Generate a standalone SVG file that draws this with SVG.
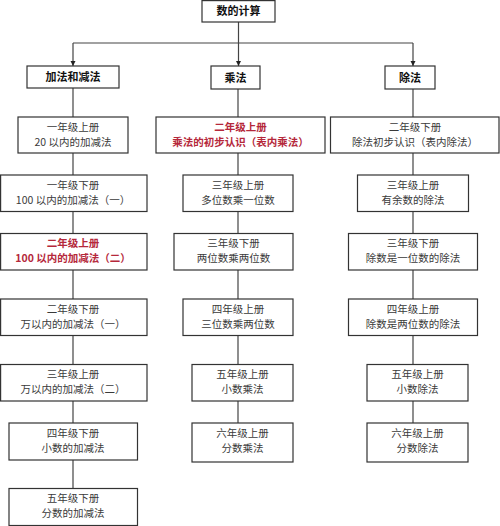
<svg xmlns="http://www.w3.org/2000/svg" width="500" height="526" viewBox="0 0 500 526">
<style>
.b{fill:#fff;stroke:#333;stroke-width:1.2}
.t{font-family:"Noto Sans CJK SC",sans-serif;font-size:10.5px;fill:#3a3a3a;text-anchor:middle}
.h{font-family:"Noto Sans CJK SC",sans-serif;font-size:11px;font-weight:bold;fill:#111;text-anchor:middle}
.r{fill:#b5283b;font-weight:bold}
.c{stroke:#444;stroke-width:1.2;fill:none}
</style>
<defs>
<marker id="a" viewBox="0 0 10 10" refX="10" refY="5" markerWidth="5" markerHeight="6" orient="auto" markerUnits="userSpaceOnUse">
<path d="M0,0L10,5L0,10z" fill="#222"/>
</marker>
</defs>
<g id="connectors">
<path class="c" d="M238.5,22V66" marker-end="url(#a)"/>
<path class="c" d="M73,43H413"/>
<path class="c" d="M73,43V66" marker-end="url(#a)"/>
<path class="c" d="M413,43V66" marker-end="url(#a)"/>
<path class="c" d="M73,88V489"/>
<path class="c" d="M238,89V423"/>
<path class="c" d="M413,89V423"/>
</g>
<g id="root"><rect class="b" x="202" y="0.6" width="73" height="21.4"/><text class="h" x="238.5" y="15">数的计算</text></g>
<g id="add"><rect class="b" x="27" y="66" width="92" height="22"/><text class="h" x="73" y="81">加法和减法</text></g>
<g id="mul"><rect class="b" x="211" y="66" width="49" height="23"/><text class="h" x="235.5" y="81.5">乘法</text></g>
<g id="div"><rect class="b" x="385" y="66" width="50" height="23"/><text class="h" x="410" y="81.5">除法</text></g>

<g id="a1"><rect class="b" x="18" y="117" width="110" height="36"/><text class="t" x="73" y="130.5">一年级上册</text><text class="t" x="73" y="145.5">20 以内的加减法</text></g>
<g id="a2"><rect class="b" x="0.6" y="175" width="146.4" height="36.5"/><text class="t" x="73" y="188.5">一年级下册</text><text class="t" x="73" y="203.5">100 以内的加减法（一）</text></g>
<g id="a3"><rect class="b" x="0.6" y="233.5" width="146.4" height="36.5"/><text class="t r" x="73" y="247">二年级上册</text><text class="t r" x="73" y="262">100 以内的加减法（二）</text></g>
<g id="a4"><rect class="b" x="0.6" y="299" width="146.4" height="36.5"/><text class="t" x="73" y="312.5">二年级下册</text><text class="t" x="73" y="327.5">万以内的加减法（一）</text></g>
<g id="a5"><rect class="b" x="0.6" y="364.5" width="146.4" height="36.5"/><text class="t" x="73" y="378">三年级上册</text><text class="t" x="73" y="393">万以内的加减法（二）</text></g>
<g id="a6"><rect class="b" x="9" y="423" width="128.5" height="37"/><text class="t" x="73" y="436.5">四年级下册</text><text class="t" x="73" y="451.5">小数的加减法</text></g>
<g id="a7"><rect class="b" x="9" y="488.5" width="128.5" height="37"/><text class="t" x="73" y="502">五年级下册</text><text class="t" x="73" y="517">分数的加减法</text></g>

<g id="m1"><rect class="b" x="156" y="117" width="169" height="36"/><text class="t r" x="240.5" y="130.5">二年级上册</text><text class="t r" x="240.5" y="145.5">乘法的初步认识（表内乘法）</text></g>
<g id="m2"><rect class="b" x="183" y="175" width="110" height="36.5"/><text class="t" x="238" y="188.5">三年级上册</text><text class="t" x="238" y="203.5">多位数乘一位数</text></g>
<g id="m3"><rect class="b" x="174" y="233.5" width="119" height="36.5"/><text class="t" x="233.5" y="247">三年级下册</text><text class="t" x="233.5" y="262">两位数乘两位数</text></g>
<g id="m4"><rect class="b" x="183" y="299" width="110" height="36.5"/><text class="t" x="238" y="312.5">四年级上册</text><text class="t" x="238" y="327.5">三位数乘两位数</text></g>
<g id="m5"><rect class="b" x="192" y="364.5" width="101" height="36.5"/><text class="t" x="242.5" y="378">五年级上册</text><text class="t" x="242.5" y="393">小数乘法</text></g>
<g id="m6"><rect class="b" x="192" y="423" width="101" height="39"/><text class="t" x="242.5" y="437">六年级上册</text><text class="t" x="242.5" y="452">分数乘法</text></g>

<g id="d1"><rect class="b" x="330.5" y="117" width="168.5" height="36"/><text class="t" x="415" y="130.5">二年级下册</text><text class="t" x="415" y="145.5">除法初步认识（表内除法）</text></g>
<g id="d2"><rect class="b" x="357.5" y="175" width="111" height="36.5"/><text class="t" x="413" y="188.5">三年级上册</text><text class="t" x="413" y="203.5">有余数的除法</text></g>
<g id="d3"><rect class="b" x="348.5" y="233.5" width="129" height="36.5"/><text class="t" x="413" y="247">三年级下册</text><text class="t" x="413" y="262">除数是一位数的除法</text></g>
<g id="d4"><rect class="b" x="348.5" y="299" width="129" height="36.5"/><text class="t" x="413" y="312.5">四年级上册</text><text class="t" x="413" y="327.5">除数是两位数的除法</text></g>
<g id="d5"><rect class="b" x="367" y="364.5" width="101" height="36.5"/><text class="t" x="417.5" y="378">五年级上册</text><text class="t" x="417.5" y="393">小数除法</text></g>
<g id="d6"><rect class="b" x="367" y="423" width="101" height="39"/><text class="t" x="417.5" y="437">六年级上册</text><text class="t" x="417.5" y="452">分数除法</text></g>
</svg>
